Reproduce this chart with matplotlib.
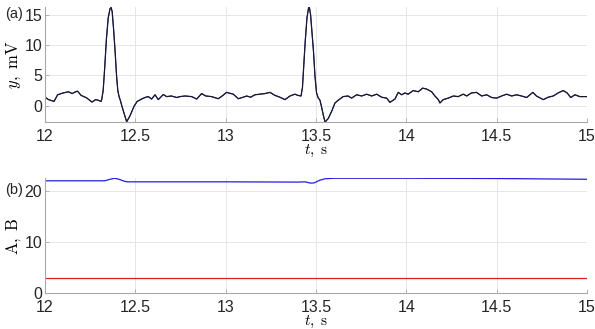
import matplotlib
matplotlib.use("Agg")
import matplotlib.pyplot as plt

plt.rcParams["font.family"] = "Liberation Sans"
plt.rcParams["mathtext.fontset"] = "cm"

# ECG record y(t), mV
t_ecg = [12.00, 12.02, 12.05, 12.07, 12.10, 12.13, 12.15, 12.17, 12.18, 12.20,
         12.23, 12.26, 12.28, 12.295, 12.31, 12.314, 12.322, 12.330, 12.340, 12.350,
         12.360, 12.366, 12.372, 12.380, 12.388, 12.396, 12.403, 12.410, 12.418, 12.425,
         12.440, 12.452, 12.47, 12.493, 12.51, 12.535, 12.553, 12.572, 12.59, 12.609,
         12.627, 12.655, 12.673, 12.70, 12.729, 12.747, 12.775, 12.812, 12.84, 12.867,
         12.89, 12.922, 12.959, 12.985, 13.005, 13.042, 13.07, 13.097, 13.116, 13.138,
         13.162, 13.19, 13.217, 13.245, 13.273, 13.30, 13.328, 13.356, 13.383, 13.40,
         13.417, 13.425, 13.432, 13.440, 13.450, 13.458, 13.463, 13.470, 13.478, 13.486,
         13.494, 13.503, 13.512, 13.522, 13.530, 13.540, 13.550, 13.568, 13.587, 13.605,
         13.623, 13.65, 13.678, 13.697, 13.725, 13.753, 13.78, 13.808, 13.836, 13.863,
         13.891, 13.909, 13.937, 13.955, 13.974, 13.992, 14.01, 14.038, 14.066, 14.09,
         14.112, 14.14, 14.158, 14.177, 14.186, 14.204, 14.232, 14.26, 14.287, 14.315,
         14.334, 14.36, 14.388, 14.417, 14.445, 14.472, 14.50, 14.527, 14.555, 14.583,
         14.61, 14.638, 14.666, 14.70, 14.72, 14.758, 14.785, 14.813, 14.84, 14.868,
         14.89, 14.91, 14.933, 14.96, 15.00]
y_ecg = [1.4, 1.0, 0.7, 1.8, 2.1, 2.3, 2.0, 2.3, 2.4, 1.7,
         1.3, 0.6, 1.0, 0.9, 0.7, 1.0, 2.5, 6.0, 11.0, 14.5,
         16.0, 16.2, 15.5, 12.5, 9.0, 5.0, 2.5, 1.5, 0.8, 0.0,
         -1.5, -2.65, -1.7, -0.1, 0.7, 1.1, 1.35, 1.5, 1.1, 1.8,
         1.0, 1.85, 1.5, 1.6, 1.35, 1.5, 1.6, 1.5, 1.1, 2.0,
         1.6, 1.5, 1.15, 1.7, 2.2, 1.9, 1.15, 1.4, 1.6, 1.4,
         1.8, 1.9, 2.0, 2.2, 1.7, 1.4, 1.0, 1.6, 1.9, 1.7,
         1.6, 3.0, 6.5, 10.5, 14.5, 16.0, 16.3, 15.0, 12.0, 9.0,
         5.0, 2.1, 1.3, 0.9, -0.1, -1.5, -2.7, -2.1, -0.9, 0.45,
         0.9, 1.5, 1.6, 1.25, 1.8, 1.6, 1.9, 1.6, 1.9, 1.4,
         1.25, 0.55, 1.1, 2.2, 1.8, 2.1, 1.9, 2.5, 2.3, 2.9,
         2.75, 2.3, 1.6, 1.0, 0.45, 1.0, 1.25, 1.6, 1.5, 1.9,
         1.6, 2.1, 2.2, 1.6, 1.8, 1.35, 1.25, 1.6, 1.9, 1.6,
         1.8, 1.6, 1.35, 2.2, 1.6, 1.0, 1.4, 1.6, 2.1, 2.5,
         2.1, 1.35, 1.8, 1.5, 1.5]

# amplitude estimates A(t) and B(t)
t_a = [12.00, 12.33, 12.36, 12.385, 12.41, 12.44, 12.46, 13.00, 13.40, 13.44,
       13.47, 13.49, 13.52, 13.55, 13.60, 14.00, 14.50, 15.00]
a_val = [21.9, 21.9, 22.2, 22.4, 22.2, 21.8, 21.7, 21.7, 21.65, 21.7,
         21.45, 21.5, 22.0, 22.3, 22.4, 22.4, 22.35, 22.2]
t_b = [12.0, 15.0]
b_val = [3.0, 3.0]

x_ticks = [12, 12.5, 13, 13.5, 14, 14.5, 15]
x_ticklabels = ["12", "12.5", "13", "13.5", "14", "14.5", "15"]

fig = plt.figure(figsize=(5.95, 3.29), dpi=100)
ax1 = fig.add_axes([0.0756, 0.629, 0.911, 0.350])
ax2 = fig.add_axes([0.0756, 0.1085, 0.911, 0.3505])

ax1.plot(t_ecg, y_ecg, color="#1c1c8c", lw=0.9)
ax1.plot(t_ecg, y_ecg, color="#1a1a1a", lw=0.7)
ax1.set_ylim(-2.7, 16.3)
ax1.set_yticks([0, 5, 10, 15])
ax1.set_ylabel(r"$y,\ \mathrm{mV}$", fontsize=12, labelpad=1)

ax2.plot(t_a, a_val, color="#2020e0", lw=0.9)
ax2.plot(t_b, b_val, color="#e02020", lw=0.9)
ax2.set_ylim(0, 22.45)
ax2.set_yticks([0, 10, 20])
ax2.set_ylabel(r"$\mathrm{A,\ B}$", fontsize=12, labelpad=1)

for ax in (ax1, ax2):
    ax.set_xlim(12, 15)
    ax.set_xticks(x_ticks)
    ax.set_xticklabels(x_ticklabels)
    ax.set_xlabel(r"$t,\ \mathrm{s}$", fontsize=11, labelpad=-1)
    ax.grid(True, color="#e6e6e6", lw=0.7)
    ax.set_axisbelow(True)
    for side in ("top", "right"):
        ax.spines[side].set_visible(False)
    for side in ("left", "bottom"):
        ax.spines[side].set_color("#a8a8a8")
        ax.spines[side].set_linewidth(0.8)
    ax.tick_params(direction="in", length=3, width=0.6, color="#a8a8a8",
                   labelsize=11.5, labelcolor="#262626")
    ax.tick_params(axis="x", pad=5)
    ax.tick_params(axis="y", pad=2)

fig.text(0.008, 0.958, "(a)", fontsize=10.5, color="#262626", va="center")
fig.text(0.008, 0.422, "(b)", fontsize=10.5, color="#262626", va="center")

fig.savefig("out.png", dpi=100)
